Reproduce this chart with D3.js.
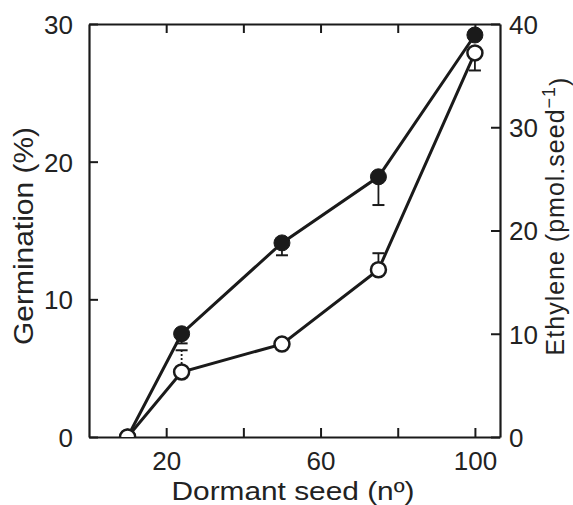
<!DOCTYPE html>
<html>
<head>
<meta charset="utf-8">
<script src="https://cdn.jsdelivr.net/npm/d3@7"></script>
<style>
  html, body { margin: 0; padding: 0; background: #fff; }
  svg text { font-family: "Liberation Sans", Arial, Helvetica, sans-serif; fill: #222; }
</style>
</head>
<body>
<svg id="chart" width="573" height="505"></svg>
<script>
// ---- data ----
const dormantSeed = [10, 24, 50, 75, 100];
const germination = [0, 7.5, 14.1, 18.9, 29.2];        // filled circles, left axis (%)
const germinationErrLow = [null, 6.8, 13.2, 16.85, null];
const ethylene = [0, 6.3, 9.0, 16.2, 37.2];             // open circles, right axis
const ethyleneErrEnd = [null, 8.4, null, 17.8, 35.5];
const xTicks = [20, 40, 60, 80, 100];
const xTickLabels = ["20", "", "60", "", "100"];
const leftTicks = [0, 10, 20, 30];
const rightTicks = [0, 10, 20, 30, 40];

// ---- layout ----
const svg = d3.select("#chart");
const L = 89, R = 500, T = 24, B = 437;
const x = d3.scaleLinear().domain([0, 106.5]).range([L, R]);
const yL = d3.scaleLinear().domain([0, 30]).range([B, T]);
const yR = d3.scaleLinear().domain([0, 40]).range([B, T]);
const ink = "#1a1a1a";

svg.append("defs").append("clipPath").attr("id", "clip")
  .append("rect").attr("x", L).attr("y", T).attr("width", R - L).attr("height", B - T);

// axes
const tickLen = 9;
const gB = svg.append("g").attr("transform", `translate(0,${B})`)
  .call(d3.axisBottom(x).tickValues(xTicks).tickSizeInner(-tickLen).tickSizeOuter(0)
    .tickPadding(tickLen + 6).tickFormat((d, i) => xTickLabels[i]));
const gT = svg.append("g").attr("transform", `translate(0,${T})`)
  .call(d3.axisTop(x).tickValues(xTicks).tickSizeInner(-tickLen).tickSizeOuter(0).tickFormat(""));
const gL = svg.append("g").attr("transform", `translate(${L},0)`)
  .call(d3.axisLeft(yL).tickValues(leftTicks).tickSizeInner(-tickLen).tickSizeOuter(0)
    .tickPadding(tickLen + 7).tickFormat(d3.format("d")));
const gR = svg.append("g").attr("transform", `translate(${R},0)`)
  .call(d3.axisRight(yR).tickValues(rightTicks).tickSizeInner(-tickLen).tickSizeOuter(0)
    .tickPadding(tickLen).tickFormat(d3.format("d")));

[gB, gT, gL, gR].forEach(g => {
  g.select(".domain").attr("stroke", ink).attr("stroke-width", 2.2);
  g.selectAll(".tick line").attr("stroke", ink).attr("stroke-width", 2);
  g.selectAll(".tick text").attr("font-size", 26).attr("fill", "#222")
    .style("font-family", '"Liberation Sans", Arial, sans-serif');
});
gL.selectAll(".tick text").attr("dy", "0.36em");
gR.selectAll(".tick text").attr("dy", "0.36em");
gB.selectAll(".tick text").attr("dy", "0.71em");

// axis labels
svg.append("text").attr("x", 293).attr("y", 500).attr("text-anchor", "middle")
  .attr("font-size", 26).attr("textLength", 243).attr("lengthAdjust", "spacingAndGlyphs")
  .text("Dormant seed (nº)");
svg.append("text").attr("transform", "translate(33,236) rotate(-90)")
  .attr("text-anchor", "middle").attr("font-size", 27).attr("textLength", 218)
  .attr("lengthAdjust", "spacingAndGlyphs").text("Germination (%)");
const eth = svg.append("text").attr("transform", "translate(564,216) rotate(-90)")
  .attr("text-anchor", "middle").attr("font-size", 25).attr("letter-spacing", 1);
eth.append("tspan").text("Ethylene (pmol.seed");
eth.append("tspan").attr("font-size", 18).attr("dy", "-0.5em").text("\u22121");
eth.append("tspan").attr("dy", "0.5em").text(")");

// data layer
const plot = svg.append("g").attr("clip-path", "url(#clip)");
const pts1 = dormantSeed.map((d, i) => ({x: d, y: germination[i], e: germinationErrLow[i]}));
const pts2 = dormantSeed.map((d, i) => ({x: d, y: ethylene[i], e: ethyleneErrEnd[i]}));

plot.append("path").datum(pts1)
  .attr("d", d3.line().x(d => x(d.x)).y(d => yL(d.y)))
  .attr("fill", "none").attr("stroke", ink).attr("stroke-width", 3);
plot.append("path").datum(pts2)
  .attr("d", d3.line().x(d => x(d.x)).y(d => yR(d.y)))
  .attr("fill", "none").attr("stroke", ink).attr("stroke-width", 3);

// error bars
const capW = 6;
function errBars(pts, ys, dashed) {
  const g = plot.append("g");
  pts.filter(p => p.e != null).forEach(p => {
    g.append("line").attr("x1", x(p.x)).attr("x2", x(p.x))
      .attr("y1", ys(p.y)).attr("y2", ys(p.e))
      .attr("stroke", ink).attr("stroke-width", 1.8)
      .attr("stroke-dasharray", dashed && p.x === 24 ? "2,2" : null);
    g.append("line").attr("x1", x(p.x) - capW).attr("x2", x(p.x) + capW)
      .attr("y1", ys(p.e)).attr("y2", ys(p.e))
      .attr("stroke", ink).attr("stroke-width", 2);
  });
}
errBars(pts1, yL, false);
errBars(pts2, yR, true);

plot.selectAll("circle.filled").data(pts1).join("circle").attr("class", "filled")
  .attr("cx", d => x(d.x)).attr("cy", d => yL(d.y)).attr("r", 8)
  .attr("fill", ink).attr("stroke", ink).attr("stroke-width", 1);
plot.selectAll("circle.open").data(pts2).join("circle").attr("class", "open")
  .attr("cx", d => x(d.x)).attr("cy", d => yR(d.y)).attr("r", 7.5)
  .attr("fill", "#fff").attr("stroke", ink).attr("stroke-width", 2.5);
</script>
</body>
</html>
